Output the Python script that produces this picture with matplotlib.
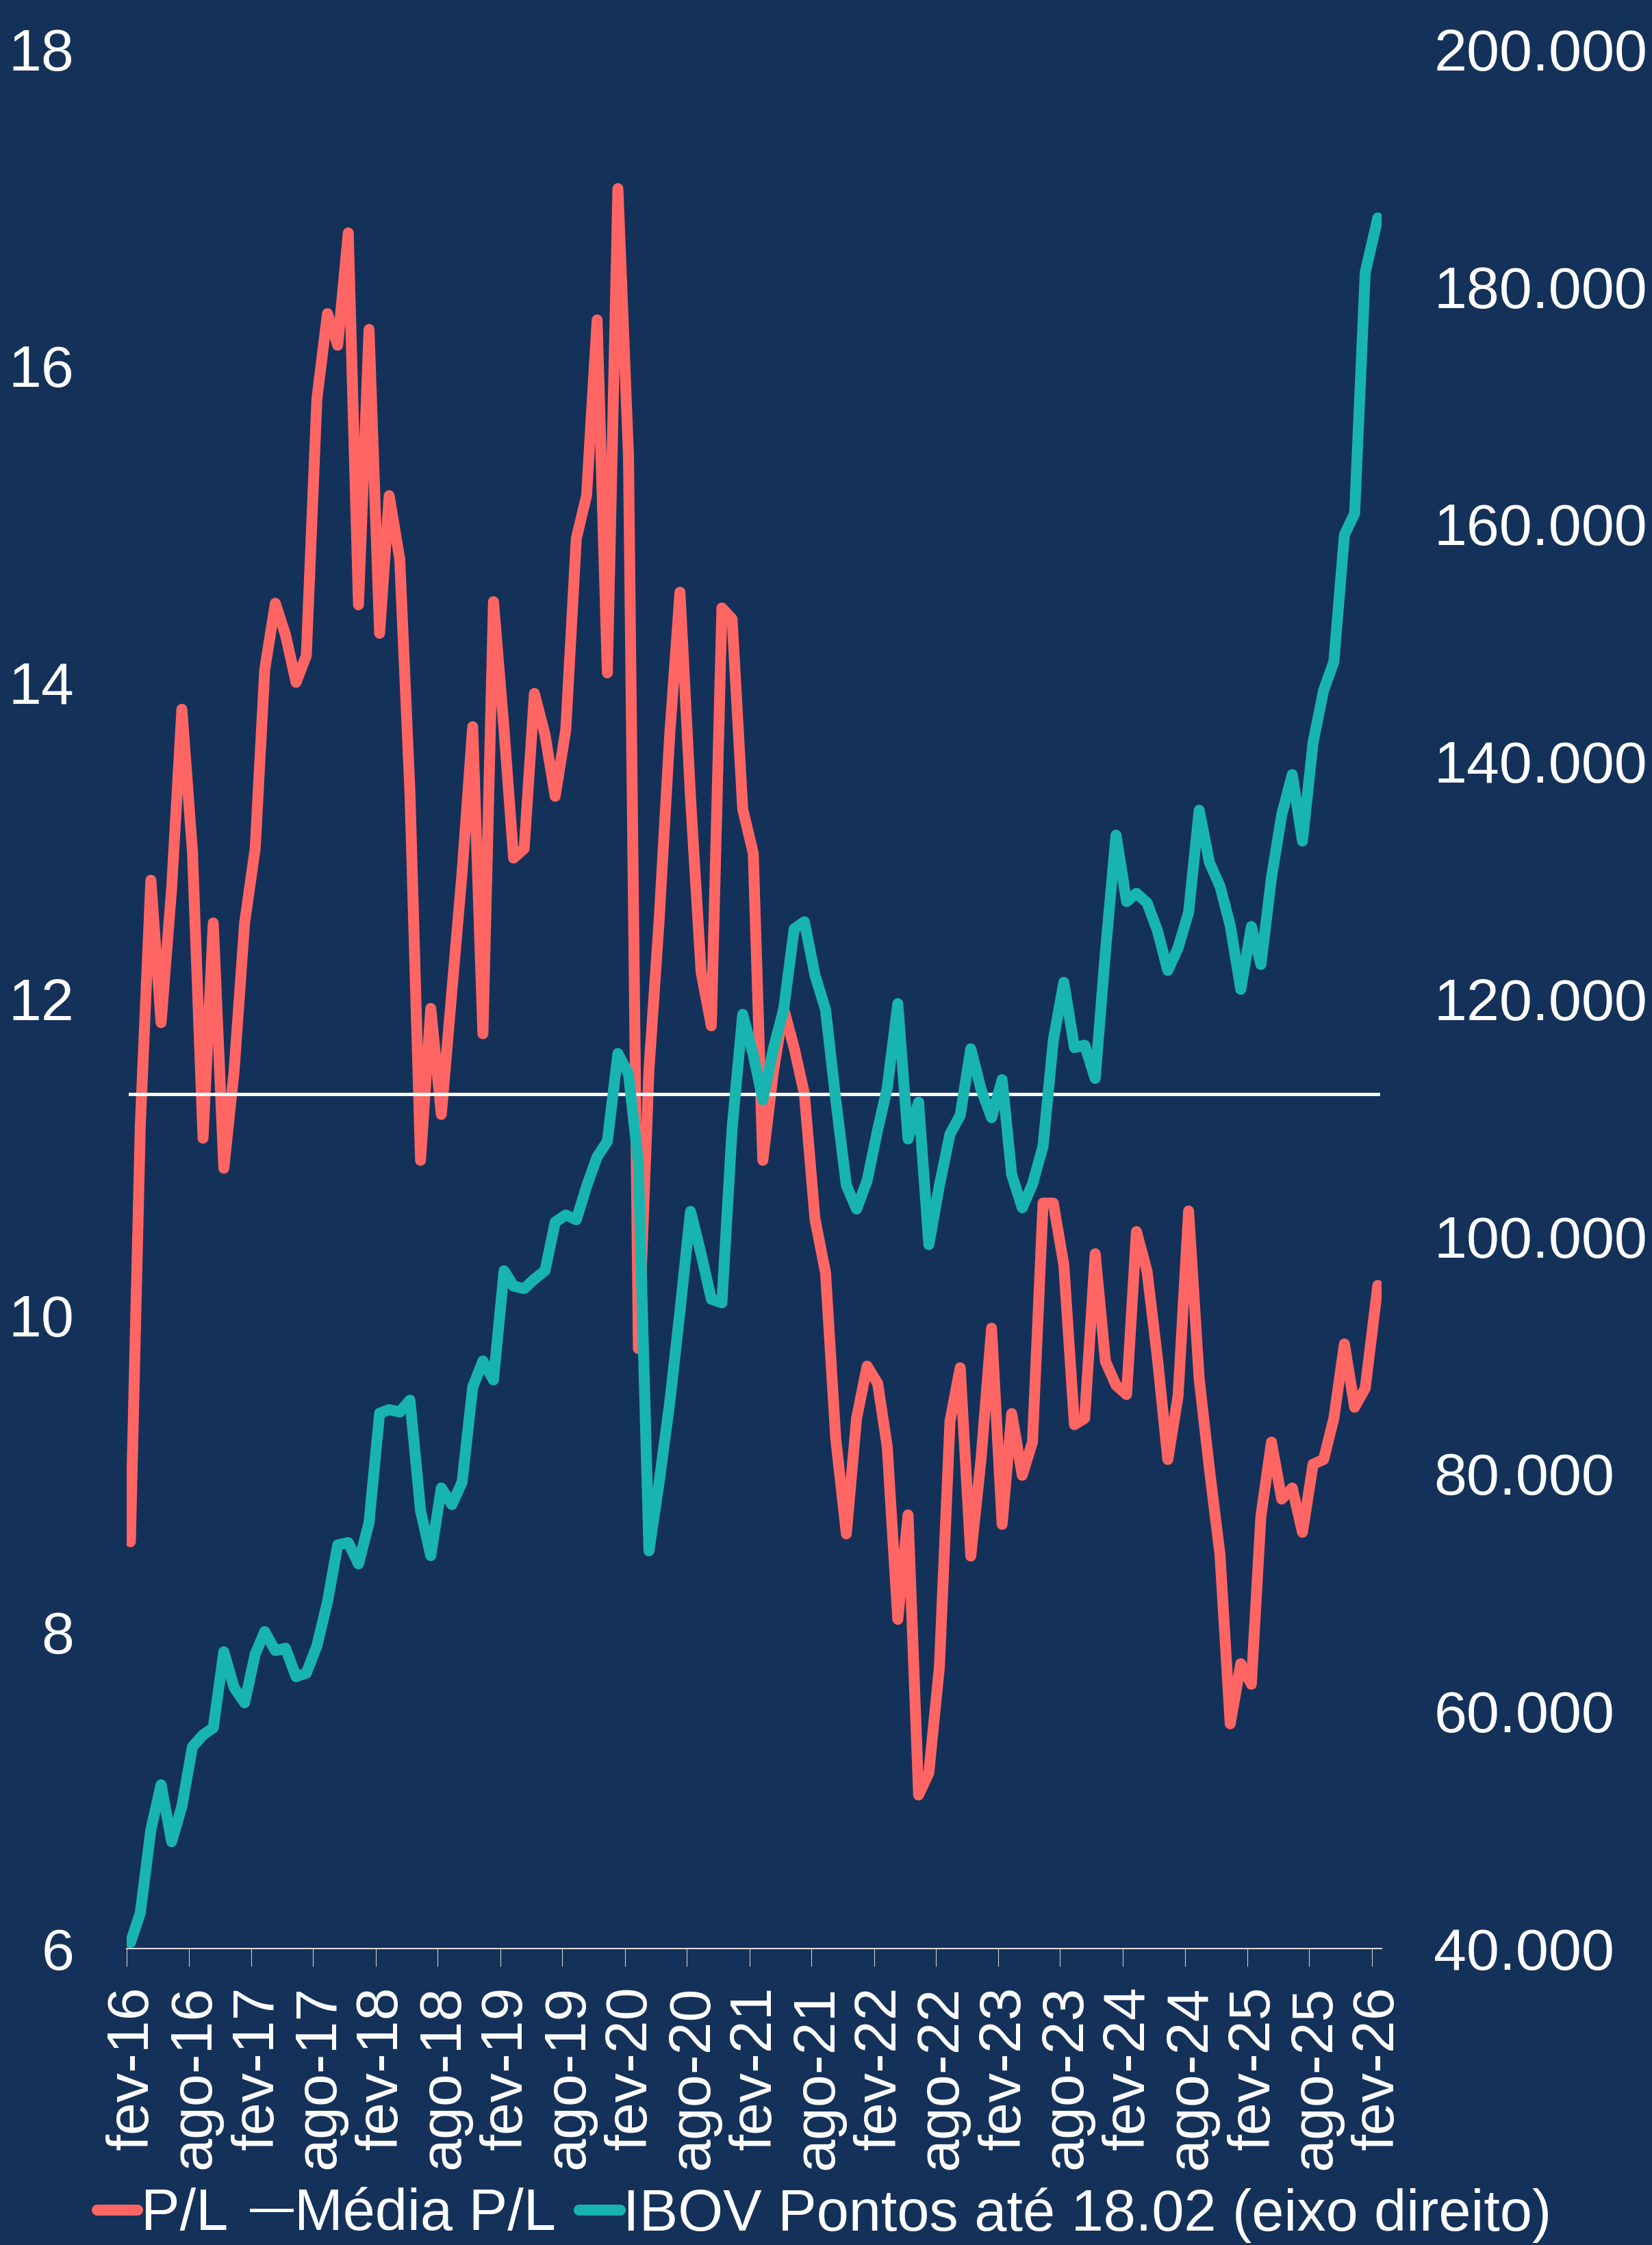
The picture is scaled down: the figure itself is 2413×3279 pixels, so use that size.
import pandas as pd
import numpy as np
import matplotlib
matplotlib.use("Agg")
import matplotlib.pyplot as plt
from matplotlib.ticker import FuncFormatter
from matplotlib.transforms import ScaledTranslation

plt.rcParams['font.family'] = ['Liberation Sans', 'DejaVu Sans']

BG = '#14315a'
RED = '#ff6663'
TEAL = '#18b5b0'
AXIS = '#d9d9d9'

# P/L mensal (fev-16 .. jan-26) + ponto de 18.02.2026
pl = [8.57, 11.2, 12.75, 11.85, 12.7, 13.83, 12.93, 11.12, 12.48, 10.93,
      11.54, 12.48, 12.95, 14.08, 14.5, 14.3, 14.0, 14.17, 15.79, 16.33,
      16.13, 16.84, 14.49, 16.23, 14.31, 15.18, 14.78, 13.3, 10.98, 11.94,
      11.27, 12.05, 12.8, 13.72, 11.78, 14.51, 13.7, 12.89, 12.95, 13.93,
      13.67, 13.28, 13.7, 14.91, 15.18, 16.29, 14.06, 17.12, 15.43, 9.79,
      11.55, 12.5, 13.67, 14.57, 13.27, 12.17, 11.83, 14.47, 14.4, 13.2,
      12.92, 10.98, 11.54, 11.94, 11.69, 11.4, 10.61, 10.27, 9.22, 8.62,
      9.35, 9.68, 9.57, 9.17, 8.08, 8.74, 6.97, 7.11, 7.78, 9.33,
      9.67, 8.48, 9.09, 9.92, 8.68, 9.38, 8.99, 9.2, 10.71, 10.71,
      10.32, 9.31, 9.35, 10.39, 9.71, 9.56, 9.5, 10.53, 10.28, 9.74,
      9.09, 9.49, 10.66, 9.6, 9.03, 8.49, 7.42, 7.8, 7.67, 8.73,
      9.2, 8.84, 8.91, 8.63, 9.06, 9.09, 9.35, 9.82, 9.42, 9.54,
      10.19]

# IBOV em mil pontos
ibov_mil = [40.5, 43.0, 50.0, 53.8, 49.0, 52.0, 57.0, 58.0, 58.6, 65.0,
            62.0, 60.7, 64.8, 66.7, 65.1, 65.3, 62.9, 63.2, 65.5, 69.2,
            74.0, 74.2, 72.4, 75.9, 85.1, 85.4, 85.2, 86.2, 76.9, 73.1,
            78.8, 77.4, 79.3, 87.3, 89.5, 87.9, 97.1, 95.8, 95.6, 96.4,
            97.1, 101.2, 101.8, 101.4, 104.2, 106.7, 108.0, 115.4, 113.7, 106.2,
            73.5, 79.3, 86.0, 93.7, 102.1, 98.5, 94.7, 94.4, 109.1, 118.7,
            115.3, 111.5, 115.8, 119.1, 125.9, 126.5, 122.0, 119.1, 111.5, 104.3,
            102.3, 104.7, 109.0, 112.5, 119.6, 108.2, 111.3, 99.3, 104.3, 108.6,
            110.2, 115.8, 112.4, 110.0, 113.2, 105.2, 102.4, 104.4, 107.6, 116.5,
            121.4, 115.9, 116.1, 113.3, 124.0, 133.8, 128.2, 128.9, 128.1, 125.8,
            122.4, 124.3, 127.3, 135.9, 131.5, 129.5, 126.2, 120.8, 126.1, 122.9,
            130.2, 135.5, 138.9, 133.3, 141.6, 146.0, 148.4, 159.1, 160.9, 181.2,
            185.8]

media_pl = 11.4

tick_labels = ['fev-16', 'ago-16', 'fev-17', 'ago-17', 'fev-18', 'ago-18',
               'fev-19', 'ago-19', 'fev-20', 'ago-20', 'fev-21', 'ago-21',
               'fev-22', 'ago-22', 'fev-23', 'ago-23', 'fev-24', 'ago-24',
               'fev-25', 'ago-25', 'fev-26']

dates = [pd.Timestamp(2016 + (i + 1) // 12, (i + 1) % 12 + 1, 12) for i in range(120)]
dates.append(pd.Timestamp(2026, 2, 18))
ibov = np.array(ibov_mil) * 1000
tick_dates = pd.date_range('2016-02-01', '2026-02-01', freq='6MS')

W, H = 2413, 3279
fig = plt.figure(figsize=(W / 100, H / 100), dpi=100, facecolor=BG)
ax = fig.add_axes([185 / W, 1 - 2846 / H, (2018 - 185) / W, (2846 - 72) / H])
ax.set_facecolor(BG)
ax2 = ax.twinx()

l1, = ax.plot(dates, pl, color=RED, lw=11.5, solid_joinstyle='round',
              solid_capstyle='round', zorder=2, label='P/L')
l2, = ax.plot(dates, [media_pl] * len(dates), color='white', lw=3.5,
              zorder=3, label='Média P/L')
l3, = ax2.plot(dates, ibov, color=TEAL, lw=11.5, solid_joinstyle='round',
               solid_capstyle='round', label='IBOV Pontos até 18.02 (eixo direito)')

ax.set_xlim(pd.Timestamp('2016-02-01'), pd.Timestamp('2026-03-01'))
ax.set_ylim(6, 18)
ax2.set_ylim(40000, 200000)
ax.set_yticks(range(6, 19, 2))
ax2.set_yticks(range(40000, 200001, 20000))
ax2.yaxis.set_major_formatter(FuncFormatter(lambda v, p: f'{int(v):,}'.replace(',', '.')))

ax.set_xticks(tick_dates)
ax.set_xticklabels(tick_labels, rotation=90)

for a in (ax, ax2):
    for s in ('top', 'left', 'right'):
        a.spines[s].set_visible(False)
ax2.spines['bottom'].set_visible(False)
ax.spines['bottom'].set_color(AXIS)
ax.spines['bottom'].set_linewidth(1.5)

ax.tick_params(axis='x', length=19, width=0.75, color=AXIS, labelcolor='white',
               labelsize=62, pad=20)
ax.tick_params(axis='y', length=0, labelcolor='white', labelsize=62, pad=55)
ax2.tick_params(axis='y', length=0, labelcolor='white', labelsize=62, pad=55)

shift = ScaledTranslation(0.09, 0, fig.dpi_scale_trans)
for lbl in ax.get_xticklabels():
    lbl.set_transform(lbl.get_transform() + shift)

fig.legend([l1, l2, l3], [l1.get_label(), l2.get_label(), l3.get_label()],
           loc='center', bbox_to_anchor=(0.499, 1 - 3235 / H), ncol=3,
           frameon=False, fontsize=61, labelcolor='white', handlelength=0.7,
           handletextpad=0.05, columnspacing=0.4)

fig.savefig('out.png', dpi=100, facecolor=BG)
